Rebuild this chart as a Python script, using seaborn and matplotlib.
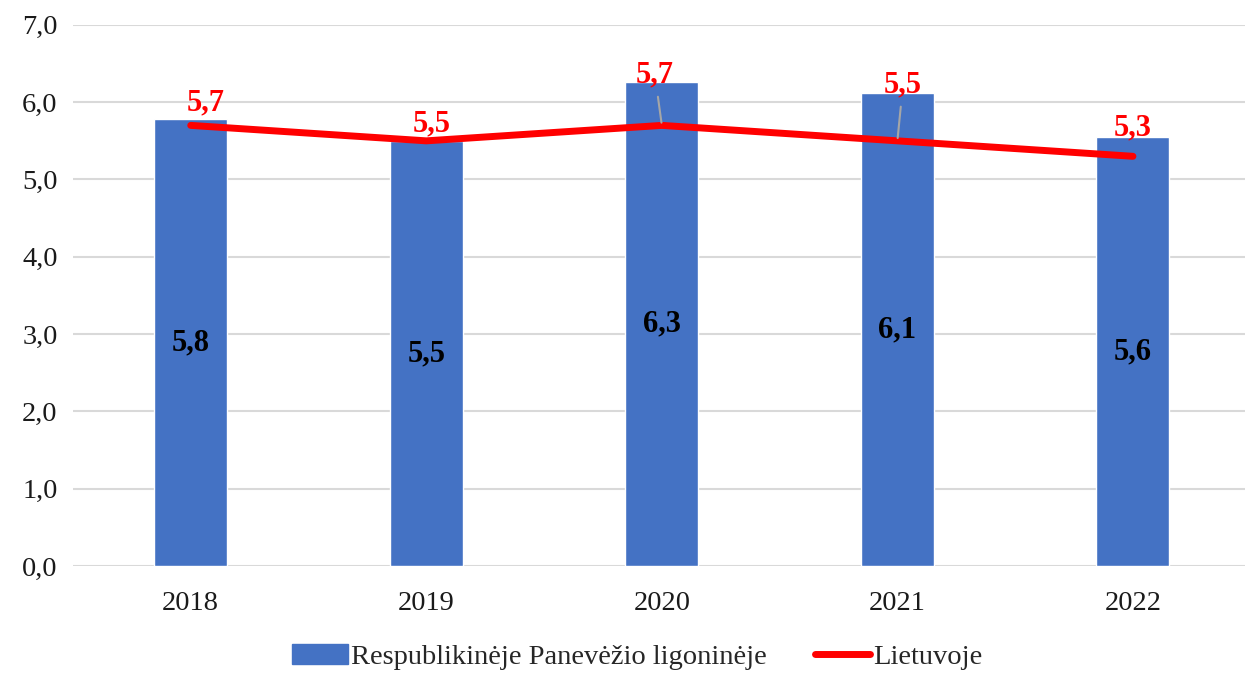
import numpy as np
import matplotlib
matplotlib.use('Agg')
import matplotlib.pyplot as plt
import seaborn as sns
from matplotlib.patches import Patch
from matplotlib.lines import Line2D

years = ['2018', '2019', '2020', '2021', '2022']
hospital = [5.78, 5.5, 6.26, 6.12, 5.55]
hospital_labels = ['5,8', '5,5', '6,3', '6,1', '5,6']
lithuania = [5.7, 5.5, 5.7, 5.5, 5.3]
lithuania_labels = ['5,7', '5,5', '5,7', '5,5', '5,3']
yticks = [0, 1, 2, 3, 4, 5, 6, 7]

sns.set_style('white')
plt.rcParams['font.family'] = ['Liberation Serif', 'DejaVu Serif']

fig = plt.figure(figsize=(12.45, 6.73), dpi=100)
ax = fig.add_axes([0.0586, 0.159, 0.946, 0.804])

blue = '#4472C4'
red = '#FF0000'
x = np.arange(len(years))

sns.barplot(x=years, y=hospital, color=blue, width=0.31, saturation=1, ax=ax, zorder=2)
sns.lineplot(x=x, y=lithuania, color=red, linewidth=5, ax=ax, zorder=3)

# labels inside bars
for i, v in enumerate(hospital):
    ax.text(i, v / 2, hospital_labels[i], ha='center', va='center',
            fontsize=22, fontweight='bold', color='black', zorder=4)

# red labels above line points (offset in points, baseline), leader lines for moved ones
offsets = [(11, 11), (4, 7), (-5, 31), (4, 35), (0, 15)]
for i, v in enumerate(lithuania):
    dx, dy = offsets[i]
    lead = dy > 20
    ax.annotate(lithuania_labels[i], xy=(i, v), xytext=(dx, dy),
                textcoords='offset points', ha='center', va='baseline',
                fontsize=22, fontweight='bold', color=red, zorder=5,
                arrowprops=dict(arrowstyle='-', color='#A6A6A6', lw=1.5,
                                shrinkA=3, shrinkB=2) if lead else None)

ax.set_ylim(0, 7)
ax.set_xlim(-0.5, len(years) - 0.5)
ax.set_yticks(yticks)
ax.set_yticklabels([f'{t},0' for t in yticks])
ax.yaxis.grid(True, color='#D9D9D9', linewidth=1.5, zorder=0)
ax.set_axisbelow(True)
ax.tick_params(axis='both', length=0, labelsize=20.5, colors='#1a1a1a')
ax.tick_params(axis='x', pad=18)
ax.tick_params(axis='y', pad=11)
for s in ax.spines.values():
    s.set_visible(False)
ax.set_xlabel('')
ax.set_ylabel('')

handles = [Patch(color=blue, label='Respublikinėje Panevėžio ligoninėje'),
           Line2D([0], [0], color=red, lw=5, label='Lietuvoje')]
fig.legend(handles=handles, loc='center', bbox_to_anchor=(0.512, 0.024), ncol=2,
           frameon=False, fontsize=20.5, handlelength=1.95, handletextpad=0.1,
           columnspacing=1.7)

fig.savefig('out.png', dpi=100)
